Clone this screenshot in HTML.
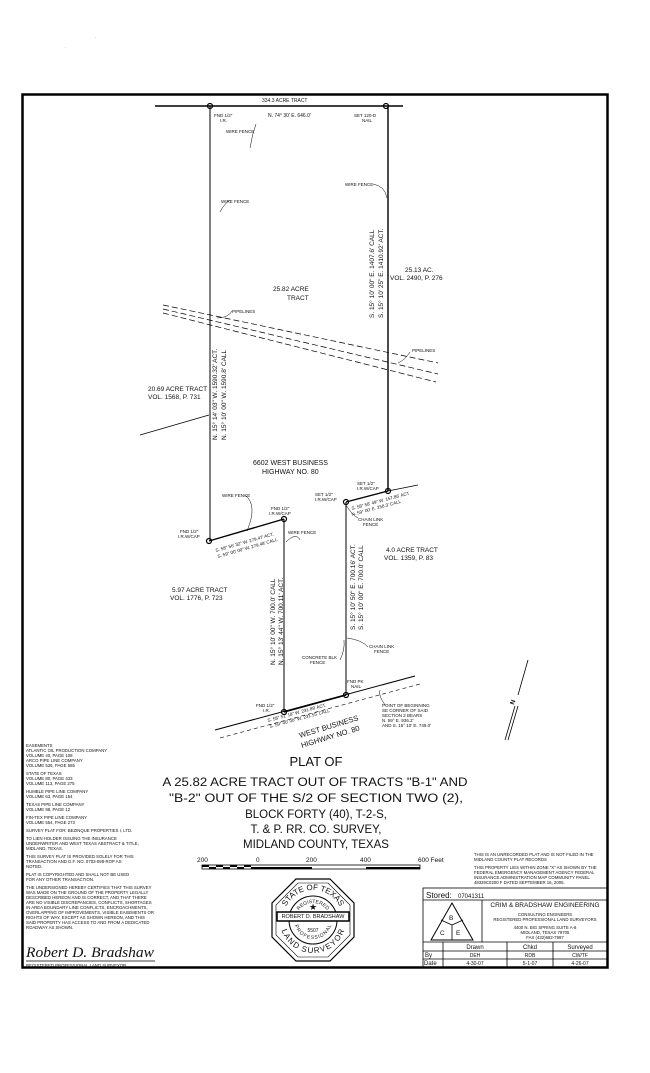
<!DOCTYPE html>
<html><head><meta charset="utf-8"><style>
html,body{margin:0;padding:0;background:#fff}
svg{display:block}
text{font-family:"Liberation Sans",sans-serif;fill:#111}
.s{font-size:4.5px}
.m{font-size:6.5px}
.l{font-size:8px}
</style></head><body>
<svg width="650" height="1073" viewBox="0 0 650 1073" xmlns="http://www.w3.org/2000/svg">
<defs>
<path id="arcTop" d="M283 920 A30 30 0 0 1 343 920"/>
<path id="arcBot" d="M286 920 A27 27 0 0 0 340 920"/>
<path id="arcTop2" d="M296 920 A17 17 0 0 1 330 920"/>
<path id="arcBot2" d="M298 920 A15 15 0 0 0 328 920"/>
</defs>
<rect x="0" y="0" width="650" height="1073" fill="#fff"/>
<rect x="22.5" y="94.5" width="585" height="873" fill="none" stroke="#000" stroke-width="2.5"/>
<g stroke="#000" fill="none">
<line x1="155" y1="106" x2="403" y2="106" stroke-width="1.4"/>
<line x1="210" y1="106" x2="210" y2="541" stroke-width="1"/>
<line x1="388" y1="106" x2="388" y2="491" stroke-width="1.4"/>
<line x1="209" y1="541" x2="284" y2="519" stroke-width="1.4"/>
<line x1="284" y1="519" x2="284" y2="712" stroke-width="1"/>
<line x1="346" y1="502" x2="388" y2="491" stroke-width="1.4"/>
<line x1="388" y1="491" x2="418" y2="485" stroke-width="0.8"/>
<line x1="346" y1="502" x2="346" y2="695" stroke-width="1"/>
<line x1="215" y1="730" x2="415" y2="676" stroke-width="1"/>
<line x1="284" y1="712" x2="346" y2="695" stroke-width="1.6"/>
<line x1="220" y1="738" x2="420" y2="684" stroke-width="0.6" stroke-dasharray="4,3"/>
<line x1="163" y1="305" x2="438" y2="363" stroke-width="0.7" stroke-dasharray="6,3"/>
<line x1="163" y1="309" x2="438" y2="374" stroke-width="0.7" stroke-dasharray="6,3"/>
<line x1="163" y1="313" x2="436" y2="382" stroke-width="0.7" stroke-dasharray="6,3"/>
<line x1="140" y1="435" x2="209" y2="415" stroke-width="0.7"/>
<line x1="528" y1="660" x2="518" y2="695" stroke-width="0.8"/>
<line x1="515" y1="706" x2="505" y2="740" stroke-width="0.8"/>
<line x1="518" y1="706" x2="508" y2="740" stroke-width="0.8"/>
<path d="M256 124 Q252 135 250 148" stroke-width="0.5"/>
<path d="M220 212 Q224 204 230 200" stroke-width="0.5"/>
<path d="M373 184 Q385 186 387 198" stroke-width="0.5"/>
<path d="M217 318 Q228 318 232 311" stroke-width="0.5"/>
<path d="M398 363 Q405 360 410 352" stroke-width="0.5"/>
<path d="M245 495 Q258 505 247 531" stroke-width="0.5"/>
<path d="M286 542 Q296 532 300 540" stroke-width="0.5"/>
<path d="M346 505 Q352 515 358 518" stroke-width="0.5"/>
<path d="M347 638 Q362 640 368 647" stroke-width="0.5"/>
<path d="M340 660 Q345 650 344 640" stroke-width="0.5"/>
<path d="M380 690 Q378 695 385 705" stroke-width="0.5"/>
</g>
<g fill="none" stroke="#000" stroke-width="1.2">
<circle cx="210" cy="106" r="2.5"/><circle cx="386" cy="106" r="2.5"/>
<circle cx="209" cy="541" r="2.5"/><circle cx="284" cy="519" r="2.5"/>
<circle cx="346" cy="502" r="2.5"/><circle cx="388" cy="491" r="2.5"/>
<circle cx="346" cy="695" r="2.5"/><circle cx="284" cy="712" r="2.5"/>
</g>
<text x="514" y="705" class="m" font-weight="bold" transform="rotate(-72 514 705)">N</text>
<text x="262" y="102" class="s" style="font-size:5px">334.3 ACRE TRACT</text>
<text x="214" y="117" class="s">FND 1/2"</text><text x="220" y="122" class="s">I.R.</text>
<text x="268" y="117" class="s" style="font-size:5px">N. 74° 30' E. 646.0'</text>
<text x="354" y="117" class="s">SET 120-D</text><text x="362" y="122" class="s">NAIL</text>
<text x="226" y="133" class="s">WIRE FENCE</text>
<text x="221" y="203" class="s">WIRE FENCE</text>
<text x="345" y="186" class="s">WIRE FENCE</text>
<text x="273" y="291" class="m">25.82 ACRE</text><text x="287" y="300" class="m">TRACT</text>
<text x="405" y="272" class="m">25.13 AC.</text><text x="390" y="280" class="m">VOL. 2490, P. 276</text>
<text x="232" y="313" class="s">PIPELINES</text>
<text x="412" y="352" class="s">PIPELINES</text>
<text x="148" y="391" class="m">20.69 ACRE TRACT</text><text x="148" y="399" class="m">VOL. 1568, P. 731</text>
<text transform="translate(217 440) rotate(-90)" class="m">N. 15° 14' 03" W.  1590.32' ACT.</text>
<text transform="translate(226 440) rotate(-90)" class="m">N. 15° 10' 00" W.  1590.8' CALL</text>
<text transform="translate(374 318) rotate(-90)" class="m">S. 15° 10' 00" E.  1407.6' CALL</text>
<text transform="translate(383 318) rotate(-90)" class="m">S. 15° 10' 25" E.  1410.92' ACT.</text>
<text x="253" y="465" class="m" style="font-size:7px">6602 WEST BUSINESS</text>
<text x="262" y="474" class="m" style="font-size:7px">HIGHWAY NO. 80</text>
<text x="357" y="485" class="s">SET 1/2"</text><text x="357" y="490" class="s">I.R.W/CAP</text>
<text x="315" y="496" class="s">SET 1/2"</text><text x="315" y="501" class="s">I.R.W/CAP</text>
<text transform="translate(352 510) rotate(-15)" class="s">S. 58° 58' 49" W.  157.86' ACT</text>
<text transform="translate(352 516) rotate(-15)" class="s">N. 59° 00' E.  258.3' CALL</text>
<text x="222" y="497" class="s">WIRE FENCE</text>
<text x="271" y="510" class="s">FND 1/2"</text><text x="269" y="515" class="s">I.R.W/CAP</text>
<text x="180" y="533" class="s">FND 1/2"</text><text x="178" y="538" class="s">I.R.W/CAP</text>
<text transform="translate(216 552) rotate(-16)" class="s">S. 58° 56' 32" W.  279.47' ACT.</text>
<text transform="translate(218 558) rotate(-16)" class="s">S. 59° 00' 00" W.  279.48' CALL</text>
<text x="288" y="534" class="s">WIRE FENCE</text>
<text x="358" y="521" class="s">CHAIN LINK</text><text x="363" y="526" class="s">FENCE</text>
<text x="386" y="552" class="m">4.0 ACRE TRACT</text><text x="384" y="560" class="m">VOL. 1359, P. 83</text>
<text x="172" y="592" class="m">5.97 ACRE TRACT</text><text x="170" y="600" class="m">VOL. 1776, P. 723</text>
<text transform="translate(275 665) rotate(-90)" class="m">N. 15° 10' 00" W.  700.0' CALL</text>
<text transform="translate(283 665) rotate(-90)" class="m">N. 15° 13' 44" W.  700.11' ACT.</text>
<text transform="translate(355 630) rotate(-90)" class="m">S. 15° 10' 50" E.  700.16' ACT.</text>
<text transform="translate(363 630) rotate(-90)" class="m">S. 15° 10' 00" E.  700.0' CALL</text>
<text x="369" y="648" class="s">CHAIN LINK</text><text x="374" y="653" class="s">FENCE</text>
<text x="302" y="659" class="s">CONCRETE BLK</text><text x="310" y="664" class="s">FENCE</text>
<text x="347" y="683" class="s">FND PK</text><text x="351" y="688" class="s">NAIL</text>
<text x="256" y="707" class="s">FND 1/2"</text><text x="263" y="712" class="s">I.R.</text>
<text transform="translate(268 722) rotate(-15)" class="s">S. 58° 51' 18" W.  231.89' ACT.</text>
<text transform="translate(270 728) rotate(-15)" class="s">S. 59° 00' 00" W.  231.55' CALL</text>
<text transform="translate(300 738) rotate(-17)" style="font-size:7.5px">WEST BUSINESS</text>
<text transform="translate(302 748) rotate(-17)" style="font-size:7.5px">HIGHWAY NO. 80</text>
<text x="382" y="707" class="s">POINT OF BEGINNING</text><text x="382" y="712" class="s">SE CORNER OF SAID</text>
<text x="382" y="717" class="s">SECTION 2 BEARS</text><text x="382" y="722" class="s">N. 59° E. 936.2'</text>
<text x="382" y="727" class="s">AND S. 15° 10' E. 749.0'</text>
<g text-anchor="middle">
<text x="316" y="766" style="font-size:13px">PLAT OF</text>
<text x="315" y="786" style="font-size:11.5px" textLength="305" lengthAdjust="spacingAndGlyphs">A 25.82 ACRE TRACT OUT OF TRACTS "B-1" AND</text>
<text x="316" y="802" style="font-size:11.5px" textLength="294" lengthAdjust="spacingAndGlyphs">"B-2" OUT OF THE S/2 OF SECTION TWO (2),</text>
<text x="316" y="818" style="font-size:11.5px">BLOCK FORTY (40), T-2-S,</text>
<text x="316" y="833" style="font-size:11.5px">T. &amp; P. RR. CO. SURVEY,</text>
<text x="316" y="848" style="font-size:11.5px">MIDLAND COUNTY, TEXAS</text>
</g>
<text x="197" y="862" class="m">200</text><text x="256" y="862" class="m">0</text>
<text x="306" y="862" class="m">200</text><text x="360" y="862" class="m">400</text><text x="418" y="862" class="m">600 Feet</text>
<rect x="202" y="865" width="218" height="4" fill="none" stroke="#000" stroke-width="0.8"/>
<g fill="#000"><rect x="202" y="865" width="7" height="2"/><rect x="216" y="865" width="7" height="2"/><rect x="230" y="865" width="7" height="2"/><rect x="244" y="865" width="7" height="2"/><rect x="209" y="867" width="7" height="2"/><rect x="223" y="867" width="7" height="2"/><rect x="237" y="867" width="7" height="2"/><rect x="251" y="867" width="7" height="2"/>
<rect x="258" y="867" width="54" height="2"/><rect x="366" y="867" width="54" height="2"/></g>
<g style="font-size:4.3px">
<text x="26" y="747">EASEMENTS</text><text x="26" y="752">ATLANTIC OIL PRODUCTION COMPANY</text><text x="26" y="757">VOLUME 40, PAGE 108</text><text x="26" y="762">ARCO PIPE LINE COMPANY</text><text x="26" y="767">VOLUME 536, PAGE 585</text>
<text x="26" y="775">STATE OF TEXAS</text><text x="26" y="780">VOLUME 80, PAGE 433</text><text x="26" y="785">VOLUME 113, PAGE 275</text>
<text x="26" y="793">HUMBLE PIPE LINE COMPANY</text><text x="26" y="798">VOLUME 63, PAGE 154</text>
<text x="26" y="806">TEXAS PIPE LINE COMPANY</text><text x="26" y="811">VOLUME 98, PAGE 12</text>
<text x="26" y="819">FIN-TEX PIPE LINE COMPANY</text><text x="26" y="824">VOLUME 554, PAGE 273</text>
<text x="26" y="832">SURVEY PLAT FOR:  BEZINQUE PROPERTIES I, LTD.</text>
<text x="26" y="840">TO LIEN HOLDER ISSUING THE INSURANCE</text><text x="26" y="845">UNDERWRITER AND WEST TEXAS ABSTRACT &amp; TITLE,</text><text x="26" y="850">MIDLAND, TEXAS.</text>
<text x="26" y="858">THIS SURVEY PLAT IS PROVIDED SOLELY FOR THIS</text><text x="26" y="863">TRANSACTION AND G.F. NO. 0703-098-ROP AS</text><text x="26" y="868">NOTED.</text>
<text x="26" y="876">PLAT IS COPYRIGHTED AND SHALL NOT BE USED</text><text x="26" y="881">FOR ANY OTHER TRANSACTION.</text>
<text x="26" y="889">THE UNDERSIGNED HEREBY CERTIFIES THAT THIS SURVEY</text><text x="26" y="894">WAS MADE ON THE GROUND OF THE PROPERTY LEGALLY</text><text x="26" y="899">DESCRIBED HEREON AND IS CORRECT, AND THAT THERE</text><text x="26" y="904">ARE NO VISIBLE DISCREPANCIES, CONFLICTS, SHORTAGES</text><text x="26" y="909">IN AREA BOUNDARY LINE CONFLICTS, ENCROACHMENTS,</text><text x="26" y="914">OVERLAPPING OF IMPROVEMENTS, VISIBLE EASEMENTS OR</text><text x="26" y="919">RIGHTS OF WAY, EXCEPT AS SHOWN HEREON, AND THIS</text><text x="26" y="924">SAID PROPERTY HAS ACCESS TO AND FROM A DEDICATED</text><text x="26" y="929">ROADWAY AS SHOWN.</text>
<text x="26" y="967">REGISTERED PROFESSIONAL LAND SURVEYOR</text>
</g>
<text x="26" y="957" style="font-family:'Liberation Serif',serif;font-style:italic;font-size:15px" textLength="128" lengthAdjust="spacingAndGlyphs">Robert D. Bradshaw</text>
<line x1="26" y1="961" x2="155" y2="961" stroke="#000" stroke-width="0.7"/>
<g style="font-size:4.3px">
<text x="474" y="856">THIS IS AN UNRECORDED PLAT AND IS NOT FILED IN THE</text><text x="474" y="861">MIDLAND COUNTY PLAT RECORDS</text>
<text x="474" y="869">THIS PROPERTY LIES WITHIN ZONE "X" AS SHOWN BY THE</text><text x="474" y="874">FEDERAL EMERGENCY MANAGEMENT AGENCY FEDERAL</text><text x="474" y="879">INSURANCE ADMINISTRATION MAP COMMUNITY PANEL</text><text x="474" y="884">48329C0200 F  DATED SEPTEMBER 16, 2005.</text>
</g>
<g transform="translate(313 920)" fill="none" stroke="#000">
<polygon points="17,-41 41,-17 41,17 17,41 -17,41 -41,17 -41,-17 -17,-41" stroke-width="1.2"/>
<polygon points="15,-37 37,-15 37,15 15,37 -15,37 -37,15 -37,-15 -15,-37" stroke-width="0.6"/>
<circle r="24" stroke-width="1"/>
<rect x="-36" y="-8" width="72" height="9" fill="#fff" stroke-width="1.5"/>
</g>
<text x="313" y="918" text-anchor="middle" style="font-size:5.5px">ROBERT D. BRADSHAW</text>
<text x="313" y="910" text-anchor="middle" style="font-size:9px">★</text>
<text x="313" y="932" text-anchor="middle" style="font-size:5px">5507</text>
<text style="font-size:8px" text-anchor="middle"><textPath href="#arcTop" startOffset="50%">STATE OF TEXAS</textPath></text>
<text style="font-size:8px" text-anchor="middle" dy="6"><textPath href="#arcBot" startOffset="50%">LAND SURVEYOR</textPath></text>
<text style="font-size:5px" text-anchor="middle"><textPath href="#arcTop2" startOffset="50%">REGISTERED</textPath></text>
<text style="font-size:5px" text-anchor="middle" dy="4"><textPath href="#arcBot2" startOffset="50%">PROFESSIONAL</textPath></text>
<g fill="none" stroke="#000" stroke-width="0.8">
<rect x="423" y="888" width="185" height="79"/>
<line x1="423" y1="900" x2="608" y2="900"/>
<line x1="423" y1="942" x2="608" y2="942"/>
<line x1="423" y1="951" x2="608" y2="951"/>
<line x1="423" y1="959" x2="608" y2="959"/>
<line x1="482" y1="900" x2="482" y2="942"/>
<line x1="443" y1="942" x2="443" y2="967"/>
<line x1="507" y1="942" x2="507" y2="967"/>
<line x1="553" y1="942" x2="553" y2="967"/>
<polygon points="452,903 473,940 431,940" stroke-width="1"/>
<line x1="452" y1="925" x2="452" y2="940"/><line x1="452" y1="925" x2="441" y2="920"/><line x1="452" y1="925" x2="463" y2="920"/>
</g>
<text x="426" y="898" style="font-size:8px">Stored:</text><text x="458" y="898" style="font-size:6px">07041311</text>
<text x="449" y="920" class="m">B</text><text x="440" y="935" class="m">C</text><text x="456" y="935" class="m">E</text>
<text x="545" y="907" text-anchor="middle" style="font-size:6.5px">CRIM &amp; BRADSHAW ENGINEERING</text>
<g text-anchor="middle" style="font-size:4.3px">
<text x="545" y="916">CONSULTING ENGINEERS</text>
<text x="545" y="921">REGISTERED PROFESSIONAL LAND SURVEYORS</text>
<text x="545" y="929">4400 N. BIG SPRING SUITE A-8</text>
<text x="545" y="934">MIDLAND, TEXAS 79705</text>
<text x="545" y="939">FAX (432)682-7997</text>
</g>
<g text-anchor="middle" style="font-size:6px">
<text x="475" y="949">Drawn</text><text x="530" y="949">Chkd</text><text x="580" y="949">Surveyed</text>
<text x="475" y="957" style="font-size:5px">DEH</text><text x="530" y="957" style="font-size:5px">RDB</text><text x="580" y="957" style="font-size:5px">CW/TF</text>
<text x="475" y="965" style="font-size:5px">4-30-07</text><text x="530" y="965" style="font-size:5px">5-1-07</text><text x="580" y="965" style="font-size:5px">4-26-07</text>
</g>
<text x="425" y="957" style="font-size:6px">By</text><text x="424" y="965" style="font-size:6px">Date</text>
<text x="65" y="48" style="font-size:4px">.</text><text x="95" y="38" style="font-size:4px">.</text>
</svg>
</body></html>
